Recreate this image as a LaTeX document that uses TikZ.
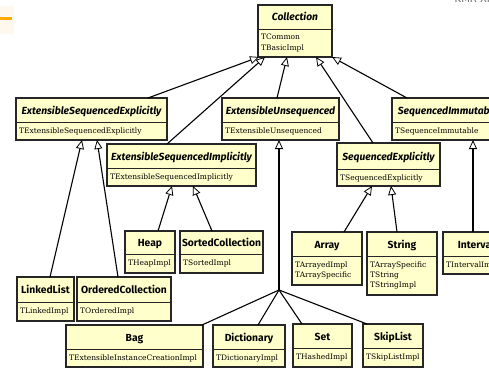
\documentclass[tikz,border=0pt]{standalone}
\usepackage{fontspec}
\setmainfont{DejaVu Serif}
\newfontfamily\titlefont{Fira Sans}
\newfontfamily\markfont{DejaVu Sans}
\usetikzlibrary{arrows.meta,calc}

\definecolor{classfill}{RGB}{255,255,204}
\definecolor{accent}{RGB}{255,170,0}

\tikzset{
  classrect/.style={draw=black!85, line width=1.1pt, fill=classfill, inner sep=0pt, outer sep=0pt},
  classline/.style={draw=black!85, line width=0.9pt},
  classtitle/.style={font=\titlefont\bfseries\fontsize{10.3}{12}\selectfont, inner sep=0pt, anchor=base},
  classbody/.style={font=\fontsize{7.5}{10}\selectfont, inner sep=0pt, anchor=base west},
  conn/.style={draw=black, line width=1.1pt},
  inherit/.style={conn, -{Triangle[length=9pt,width=8pt,fill=white,line width=0.8pt]}},
}

% #1 name, #2 left, #3 top, #4 right, #5 bottom, #6 divider, #7 title, #8 body lines
\newcommand\classbox[8]{%
  \pgfmathsetmacro\cbw{#4-#2}%
  \pgfmathsetmacro\cbh{#5-#3}%
  \pgfmathsetmacro\cbcx{(#2+#4)/2}%
  \pgfmathsetmacro\cbty{(#3+#6)/2+4}%
  \node[classrect, minimum width=\cbw pt, minimum height=\cbh pt, anchor=north west] (#1) at (#2,#3) {};
  \draw[classline] (#2,#6) -- (#4,#6);
  \node[classtitle] (#1-t) at (\cbcx,\cbty) {#7};
  \foreach \ln [count=\i] in {#8} {
    \node[classbody] (#1-b\i) at ({#2+3},{#6+1+10*\i}) {\ln};
  }
}
\newcommand\abst[1]{{\itshape #1}}

\begin{document}
\begin{tikzpicture}[x=1pt,y=-1pt]
  \path[use as bounding box] (0,0) rectangle (489,369);
  \clip (0,0) rectangle (489,369);
  \fill[white] (0,0) rectangle (489,369);

  % slide decoration
  \fill[accent!7] (0,6) rectangle (14,34);
  \fill[accent] (0,17) rectangle (12,20);
  \node[font=\markfont\fontsize{10}{12}\selectfont, text=black!60, anchor=base east, inner sep=0pt] (hdr) at (490,2.5) {KMR XI};

  % classes
  \classbox{coll}{258}{5}{332}{57}{29}{\abst{Collection}}{TCommon, TBasicImpl}
  \classbox{ese}{16}{98}{167}{140}{122}{\abst{ExtensibleSequencedExplicitly}}{TExtensibleSequencedExplicitly}
  \classbox{eu}{222}{98}{339}{140}{122}{\abst{ExtensibleUnsequenced}}{TExtensibleUnsequenced}
  \classbox{si}{392}{98}{504}{140}{122}{\abst{SequencedImmutable}}{TSequenceImmutable}
  \classbox{esi}{107}{144}{256}{186}{168}{\abst{ExtensibleSequencedImplicitly}}{TExtensibleSequencedImplicitly}
  \classbox{se}{337}{143}{440}{186}{169}{\abst{SequencedExplicitly}}{TSequencedExplicitly}
  \classbox{heap}{125}{231}{175}{273}{254}{Heap}{THeapImpl}
  \classbox{sc}{180}{231}{263}{273}{254}{SortedCollection}{TSortedImpl}
  \classbox{arr}{292}{232}{362}{285}{256}{Array}{TArrayedImpl, TArraySpecific}
  \classbox{str}{367}{232}{437}{295}{256}{String}{TArraySpecific, TString, TStringImpl}
  \classbox{intv}{443}{232}{509}{274}{256}{Interval}{TIntervalImpl}
  \classbox{ll}{17}{277}{74}{321}{302}{LinkedList}{TLinkedImpl}
  \classbox{oc}{77}{277}{171}{321}{302}{OrderedCollection}{TOrderedImpl}
  \classbox{bag}{66}{325}{203}{367}{349}{Bag}{TExtensibleInstanceCreationImpl}
  \classbox{dict}{213}{325}{285}{367}{349}{Dictionary}{TDictionaryImpl}
  \classbox{set}{293}{324}{352}{367}{348}{Set}{THashedImpl}
  \classbox{skip}{363}{324}{423}{367}{348}{SkipList}{TSkipListImpl}

  % inheritance towards Collection
  \draw[inherit] ([xshift=132pt]ese.north west) -- ([xshift=1pt]coll.south west);
  \draw[inherit] ([xshift=60pt]esi.north west) -- ([xshift=7pt]coll.south west);
  \draw[inherit] ([xshift=55pt]eu.north west) -- ([xshift=29pt]coll.south west);
  \draw[inherit] ([xshift=36pt]se.north west) -- ([xshift=58pt]coll.south west);
  \draw[inherit] ([xshift=15pt]si.north west) -- ([xshift=74pt]coll.south west);

  % second level
  \draw[inherit] ([xshift=33pt]ll.north west) -- ([xshift=66pt]ese.south west);
  \draw[inherit] ([xshift=41pt]oc.north west) -- ([xshift=81pt]ese.south west);
  \draw[inherit] ([xshift=33pt]heap.north west) -- ([xshift=65pt]esi.south west);
  \draw[inherit] ([xshift=32pt]sc.north west) -- ([xshift=86pt]esi.south west);
  \draw[inherit] ([xshift=52pt]arr.north west) -- ([xshift=35pt]se.south west);
  \draw[inherit] ([xshift=30pt]str.north west) -- ([xshift=54pt]se.south west);
  \draw[inherit] ([xshift=30pt]intv.north west) -- ([xshift=81pt]si.south west);

  % shared branch into ExtensibleUnsequenced
  \coordinate (eu-j) at (279,290);
  \draw[inherit] (eu-j) -- ([xshift=57pt]eu.south west);
  \draw[conn] ([xshift=136pt]bag.north west) -- (eu-j);
  \draw[conn] ([xshift=45pt]dict.north west) -- (eu-j);
  \draw[conn] ([xshift=9pt]set.north west) -- (eu-j);
  \draw[conn] ([xshift=4pt]skip.north west) -- (eu-j);
\end{tikzpicture}
\end{document}
